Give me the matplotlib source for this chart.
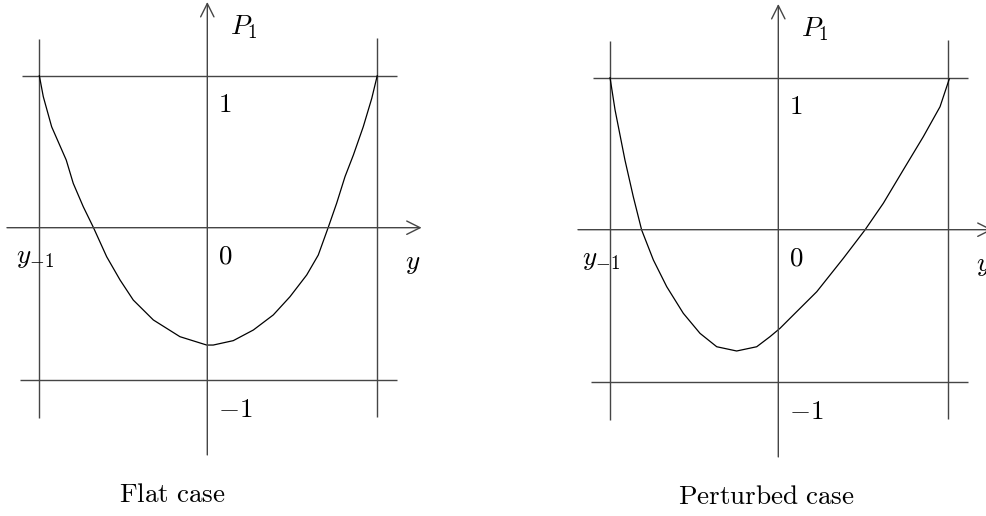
import matplotlib.pyplot as plt

plt.rcParams["mathtext.fontset"] = "cm"

# curve samples (x in units of the P1 scale, y = P1)
flat_x = [-1.105, -1.079, -1.024, -0.928, -0.882, -0.816, -0.750, -0.662, -0.574,
          -0.487, -0.355, -0.180, -0.004, 0.039, 0.171, 0.303, 0.434, 0.544,
          0.654, 0.730, 0.796, 0.851, 0.906, 0.961, 1.026, 1.082, 1.118]
flat_y = [1.0, 0.862, 0.664, 0.445, 0.292, 0.138, 0.003, -0.191, -0.344,
          -0.476, -0.607, -0.717, -0.772, -0.772, -0.743, -0.673, -0.574, -0.454,
          -0.311, -0.180, 0.003, 0.161, 0.336, 0.478, 0.664, 0.851, 1.0]

pert_x = [-1.107, -1.074, -1.009, -0.954, -0.899, -0.822, -0.734, -0.625, -0.515,
          -0.405, -0.274, -0.142, -0.055, 0.011, 0.077, 0.253, 0.428, 0.570,
          0.691, 0.822, 0.954, 1.064, 1.125]
pert_y = [1.0, 0.788, 0.459, 0.217, -0.002, -0.199, -0.375, -0.550, -0.682,
          -0.770, -0.798, -0.770, -0.704, -0.649, -0.583, -0.408, -0.188, -0.002,
          0.174, 0.393, 0.612, 0.809, 0.992]

captions = ["Flat case", "Perturbed case"]

SCALE = 152.0  # px per unit
W, H = 987, 516
fig = plt.figure(figsize=(W / 100, H / 100), dpi=100)

panels = [
    dict(ox=207.3, oy=227.7, x0=0, x1=493, xl=-1.105, xr=1.118,
         cx=flat_x, cy=flat_y, cap_x=-0.233, ylab=-1.26),
    dict(ox=778.3, oy=229.7, x0=493, x1=987, xl=-1.107, xr=1.114,
         cx=pert_x, cy=pert_y, cap_x=-0.076, ylab=-1.29),
]

line_kw = dict(color="#454545", lw=1.0, solid_capstyle="butt")
arrow_kw = dict(arrowstyle="->", color="#454545", lw=1.0,
                mutation_scale=24, shrinkA=0, shrinkB=0)
txt = dict(fontsize=19.5, color="black")

for p, cap in zip(panels, captions):
    ax = fig.add_axes([p["x0"] / W, 0, (p["x1"] - p["x0"]) / W, 1])
    ax.set_xlim((p["x0"] - p["ox"]) / SCALE, (p["x1"] - p["ox"]) / SCALE)
    ax.set_ylim((p["oy"] - H) / SCALE, p["oy"] / SCALE)
    ax.axis("off")

    # vertical bounds at y_{-1} and at the right end
    ax.plot([p["xl"], p["xl"]], [-1.25, 1.24], **line_kw)
    ax.plot([p["xr"], p["xr"]], [-1.245, 1.25], **line_kw)
    # horizontal levels 1 and -1
    ax.plot([-1.22, 1.248], [1, 1], **line_kw)
    ax.plot([-1.232, 1.248], [-1, -1], **line_kw)
    # axes with open arrows
    ax.annotate("", xy=(0, 1.485), xytext=(0, -1.495), arrowprops=arrow_kw)
    ax.annotate("", xy=(1.41, 0), xytext=(-1.318, 0), arrowprops=arrow_kw,
                annotation_clip=False)

    ax.plot(p["cx"], p["cy"], color="black", lw=0.9)

    ax.text(0.15, 1.32, r"$P_1$", ha="left", va="center", **txt)
    ax.text(0.07, 0.807, r"$1$", ha="left", va="center", **txt)
    ax.text(0.07, -0.19, r"$0$", ha="left", va="center", **txt)
    ax.text(0.07, -1.2, r"$-1$", ha="left", va="center", **txt)
    ax.text(p["ylab"], -0.19, r"$y_{-1}$", ha="left", va="center", **txt)
    ax.text(1.30, -0.23, r"$y$", ha="left", va="center", **txt)
    ax.text(p["cap_x"], -1.757, r"$\mathrm{%s}$" % cap.replace(" ", r"\ "),
            ha="center", va="center", **txt)

fig.savefig("out.png", dpi=100)
